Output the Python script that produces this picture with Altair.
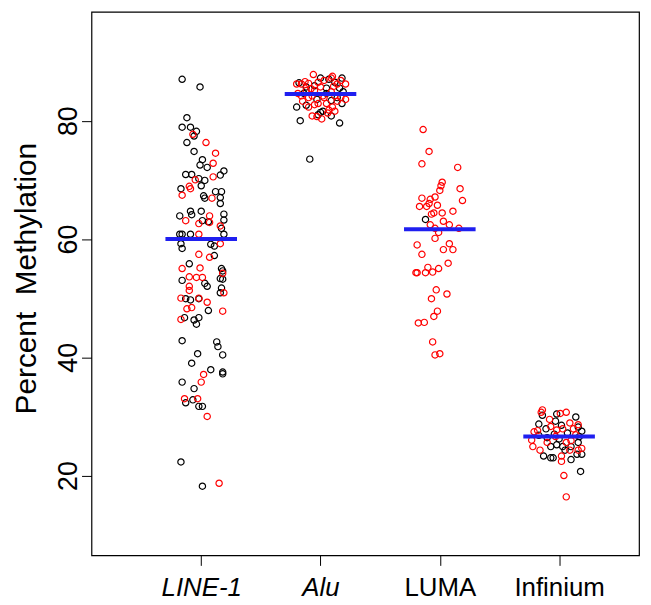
import altair as alt
import pandas as pd

categories = ["LINE-1", "Alu", "LUMA", "Infinium"]
medians = [60.0, 84.5, 61.65, 26.6]

# [jitter offset, percent methylation]
line1_black = [(-0.16, 87.0), (-0.01, 85.7), (-0.12, 80.5), (-0.16, 78.9), (-0.09, 78.9), (-0.04, 78.2), (-0.06, 77.4), (-0.12, 76.3), (-0.06, 74.8), (0.01, 73.4), (-0.01, 72.5), (0.05, 72.1), (0.19, 71.5), (-0.13, 70.9), (-0.08, 70.9), (-0.02, 70.2), (0.03, 69.9), (0.16, 70.8), (-0.17, 68.5), (0.00, 69.0), (0.02, 67.3), (0.03, 66.9), (0.12, 68.0), (0.17, 68.0), (0.16, 67.0), (0.16, 66.0), (-0.18, 63.9), (-0.09, 64.7), (-0.08, 64.1), (0.00, 64.7), (0.01, 63.1), (0.19, 64.2), (0.19, 63.2), (0.17, 61.8), (0.19, 60.8), (-0.18, 60.8), (-0.16, 60.8), (-0.09, 60.8), (-0.17, 59.2), (-0.16, 58.4), (0.08, 59.1), (-0.10, 55.8), (0.11, 57.2), (0.17, 55.0), (0.16, 53.3), (0.18, 53.2), (-0.16, 53.0), (0.03, 52.5), (0.05, 52.0), (0.17, 51.7), (0.16, 50.9), (-0.13, 49.9), (-0.09, 49.7), (-0.02, 49.9), (0.06, 47.9), (-0.14, 46.7), (-0.02, 46.7), (-0.06, 46.3), (-0.04, 45.6), (-0.16, 42.8), (0.13, 42.6), (0.14, 41.8), (-0.03, 40.6), (0.18, 40.4), (-0.08, 39.0), (0.08, 37.9), (0.18, 37.5), (0.18, 37.2), (-0.16, 35.8), (-0.06, 34.7), (-0.07, 32.8), (-0.13, 32.3), (-0.02, 31.7), (0.01, 31.7), (-0.17, 22.3), (0.01, 18.2), (0.18, 54.6), (0.11, 58.8), (0.06, 62.9)]
line1_red = [(-0.07, 77.7), (0.04, 76.3), (0.12, 74.5), (0.10, 72.8), (-0.10, 68.9), (-0.16, 67.4), (-0.09, 68.5), (0.09, 66.9), (-0.13, 63.1), (0.07, 63.9), (-0.02, 62.6), (0.16, 62.2), (0.07, 62.8), (-0.02, 60.8), (0.16, 59.2), (-0.02, 57.4), (0.07, 56.9), (-0.16, 55.0), (-0.01, 55.1), (-0.10, 53.6), (-0.04, 53.5), (0.01, 53.5), (-0.10, 52.0), (-0.10, 51.3), (0.19, 50.9), (-0.02, 50.0), (-0.17, 50.0), (0.05, 49.3), (-0.08, 48.4), (-0.12, 48.2), (0.18, 47.8), (-0.17, 46.4), (0.02, 37.1), (0.00, 35.8), (-0.14, 33.0), (-0.03, 33.0), (0.05, 30.0), (0.15, 18.7), (0.10, 70.5), (-0.05, 70.0), (0.18, 54.2)]
alu_black = [(-0.18, 86.4), (0.00, 87.2), (0.07, 87.0), (0.18, 87.2), (0.12, 86.5), (-0.12, 85.7), (-0.05, 85.9), (0.05, 85.5), (0.16, 85.5), (0.19, 84.9), (-0.20, 82.3), (-0.12, 82.6), (-0.03, 83.6), (0.09, 83.4), (0.18, 82.9), (0.00, 81.4), (0.02, 81.6), (-0.02, 81.0), (0.09, 80.8), (-0.17, 80.0), (0.16, 79.6), (-0.09, 73.5), (-0.14, 84.6), (0.14, 83.9), (0.05, 84.6)]
alu_red = [(-0.20, 86.2), (-0.16, 86.2), (-0.10, 86.3), (-0.06, 87.8), (-0.02, 86.5), (0.03, 86.8), (0.09, 87.2), (0.10, 87.5), (0.14, 86.2), (0.21, 86.2), (-0.19, 84.6), (-0.16, 84.2), (-0.10, 83.9), (-0.07, 84.2), (-0.05, 85.1), (0.03, 83.9), (0.09, 84.9), (0.12, 84.2), (0.17, 83.9), (0.21, 83.6), (-0.15, 83.3), (-0.10, 82.3), (-0.05, 82.7), (0.05, 82.9), (0.10, 82.3), (0.14, 83.3), (-0.07, 80.8), (-0.03, 80.7), (0.01, 80.3), (0.06, 81.3), (-0.12, 85.1), (-0.02, 82.9), (0.07, 81.8), (0.12, 81.6), (0.02, 84.2), (-0.13, 86.6), (0.00, 85.7), (0.17, 86.8), (-0.08, 85.4), (0.11, 85.8)]
luma_black = [(-0.12, 63.3)]
luma_red = [(-0.14, 78.5), (-0.09, 74.8), (-0.15, 72.7), (0.15, 72.1), (0.02, 69.6), (0.01, 69.0), (0.00, 68.2), (0.17, 68.5), (-0.15, 66.9), (-0.04, 67.1), (-0.08, 66.7), (-0.09, 66.0), (0.19, 66.5), (-0.02, 65.7), (-0.17, 65.5), (-0.11, 65.5), (-0.07, 64.2), (-0.05, 64.4), (0.02, 64.4), (0.11, 64.7), (-0.08, 62.4), (0.03, 63.0), (0.08, 62.4), (-0.04, 61.8), (-0.01, 61.1), (0.16, 61.8), (-0.04, 60.1), (-0.19, 59.0), (0.08, 59.2), (0.03, 58.2), (0.11, 58.2), (-0.15, 57.4), (-0.10, 55.2), (-0.01, 55.0), (-0.20, 54.3), (-0.19, 54.3), (-0.12, 54.3), (-0.06, 54.4), (0.07, 55.9), (-0.03, 51.4), (0.06, 50.7), (-0.07, 49.9), (-0.02, 47.8), (-0.05, 46.9), (-0.18, 45.8), (-0.13, 45.9), (-0.06, 42.6), (-0.04, 40.4), (0.00, 40.6)]
inf_black = [(-0.14, 30.2), (-0.02, 30.4), (0.14, 29.9), (-0.17, 28.7), (-0.11, 27.9), (-0.03, 29.2), (0.02, 28.5), (0.16, 28.2), (0.19, 27.5), (-0.17, 26.8), (-0.04, 27.0), (0.07, 27.2), (0.17, 26.6), (-0.07, 24.9), (-0.02, 25.2), (0.03, 24.9), (0.05, 24.3), (-0.13, 23.3), (-0.07, 23.0), (0.10, 22.7), (0.19, 23.6), (0.16, 25.6), (0.00, 26.2), (-0.05, 23.0), (-0.10, 26.4), (0.10, 24.9), (0.15, 23.6), (0.18, 20.7)]
inf_red = [(-0.14, 31.1), (-0.15, 30.7), (0.01, 30.5), (0.06, 30.7), (-0.08, 29.5), (0.09, 28.9), (0.16, 28.6), (-0.21, 27.4), (-0.18, 27.6), (0.03, 27.9), (0.12, 27.9), (-0.22, 24.9), (-0.16, 24.3), (-0.10, 25.6), (-0.03, 26.6), (0.06, 25.6), (0.16, 24.3), (0.19, 24.6), (0.02, 23.3), (0.09, 24.3), (-0.23, 26.0), (0.10, 25.9), (0.14, 26.9), (-0.07, 28.3), (-0.02, 27.7), (0.02, 22.4), (0.04, 20.0), (0.06, 16.4)]

groups = [
    (1, "black", line1_black), (1, "red", line1_red),
    (2, "black", alu_black), (2, "red", alu_red),
    (3, "black", luma_black), (3, "red", luma_red),
    (4, "black", inf_black), (4, "red", inf_red),
]
rows = []
for g, c, pts in groups:
    for off, v in pts:
        rows.append({"g": g, "off": off, "val": v, "col": c})
pts_df = pd.DataFrame(rows)
med_df = pd.DataFrame({"g": [1, 2, 3, 4], "m": medians})

FONT = "Liberation Sans"
xscale = alt.Scale(domain=[0.08, 4.67], nice=False, zero=False)
yscale = alt.Scale(domain=[6.5, 98.4], nice=False, zero=False)

xaxis = alt.Axis(
    values=[1, 2, 3, 4],
    labelExpr="['', 'LINE-1', 'Alu', 'LUMA', 'Infinium'][datum.value]",
    labelFontStyle=alt.condition("datum.value <= 2", alt.value("italic"), alt.value("normal")),
    title=None, grid=False, domain=False, tickSize=10, tickColor="black", tickWidth=1,
    labelFont=FONT, labelFontSize=26, labelColor="black", labelBaseline="alphabetic",
    labelPadding=30, labelFlush=False, labelOverlap=False,
)
yaxis = alt.Axis(
    values=[20, 40, 60, 80], grid=False, domain=False, tickSize=10, tickColor="black", tickWidth=1,
    labelFont=FONT, labelFontSize=27, labelColor="black", labelAngle=270,
    labelAlign="center", labelBaseline="alphabetic", labelPadding=5,
    title="Percent \u00a0Methylation", titleFont=FONT, titleFontSize=30,
    titleFontWeight="normal", titleColor="black", titleAngle=270,
    titleX=-56, titleY=268, titleBaseline="alphabetic", titleAlign="center",
)

points = alt.Chart(pts_df).transform_calculate(
    xp="datum.g + datum.off"
).mark_point(shape="circle", filled=False, size=40, strokeWidth=1.2, opacity=1).encode(
    x=alt.X("xp:Q", scale=xscale, axis=xaxis),
    y=alt.Y("val:Q", scale=yscale, axis=yaxis),
    color=alt.Color("col:N", scale=alt.Scale(domain=["black", "red"], range=["#000000", "#ff0000"]), legend=None),
)

rules = alt.Chart(med_df).transform_calculate(
    x1="datum.g - 0.3", x2="datum.g + 0.3"
).mark_rule(color="#1f1ff0", strokeWidth=4).encode(
    x=alt.X("x1:Q", scale=xscale),
    x2="x2:Q",
    y=alt.Y("m:Q", scale=yscale),
)

chart = alt.layer(points, rules).properties(
    width=551, height=547,
    background="white",
    autosize=alt.AutoSizeParams(type="none"),
    padding={"left": 84, "top": 2, "right": 4, "bottom": 45},
).configure_view(stroke="black", strokeWidth=1.2)

chart.save("out.html", embed_options={"renderer": "svg", "actions": False})
